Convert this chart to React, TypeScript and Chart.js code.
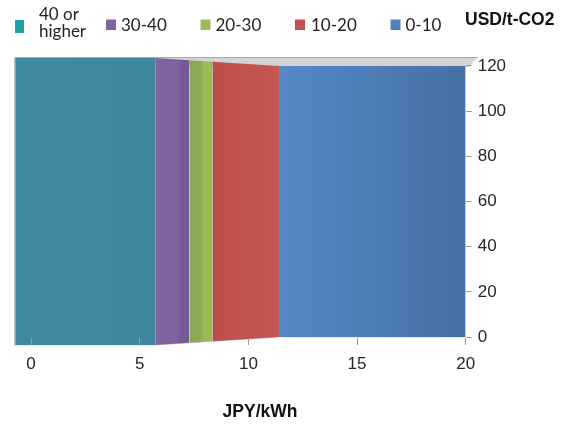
import React, { useEffect, useRef } from 'react';
import { Chart, registerables } from 'chart.js';

Chart.register(...registerables);

// Cost bands (USD/t-CO2) laid out along the JPY/kWh axis
const bandLabels = ['40 or higher', '30-40', '20-30', '10-20', '0-10'];
const legendLines = [['40 or', 'higher'], ['30-40'], ['20-30'], ['10-20'], ['0-10']];
const bandFrom = [-0.74, 5.71, 7.29, 8.34, 11.41];
const bandTo = [5.71, 7.29, 8.34, 11.41, 20];
const bandValue = [120, 120, 120, 120, 120];
const xTickValues = [0, 5, 10, 15, 20];
const yTickValues = [0, 20, 40, 60, 80, 100, 120];

const X_MIN = -0.74;
const X_MAX = 20;
const Y_BASE = 0;
const Y_TOP = 120;
// the axis leaves a little room above and below so the nearer bands can stand taller
const Y_AXIS_MIN = -3.54;
const Y_AXIS_MAX = 123.54;

// shading of each band from its left edge to its right edge
const bandStops: [number, string][][] = [
  [[0, '#408A9F'], [1, '#3F899E']],
  [[0, '#8064A2'], [0.68, '#7E62A0'], [0.72, '#775A96'], [1, '#755893']],
  [[0, '#8AA753'], [0.52, '#8DAB55'], [0.58, '#99BA58'], [1, '#9BBB59']],
  [[0, '#BB4D4A'], [0.18, '#BD4F4C'], [0.22, '#C2514E'], [0.8, '#C45450'], [1, '#C65955']],
  [[0, '#5588C6'], [0.35, '#5081BD'], [0.7, '#4A77AF'], [1, '#4571A6']],
];
const legendColors = ['#22A1A4', '#8064A2', '#9BBB59', '#C0504D', '#4F81BD'];

const DEPTH = 1.059;

function depthScale(chart: any, px: number) {
  const x = chart.scales.x;
  const p1 = x.getPixelForValue(bandTo[0]);
  const p2 = x.getPixelForValue(bandFrom[bandFrom.length - 1]);
  const t = Math.min(1, Math.max(0, (px - p1) / (p2 - p1)));
  return DEPTH - (DEPTH - 1) * t;
}

function frontFace(chart: any) {
  const y = chart.scales.y;
  const top = y.getPixelForValue(Y_TOP);
  const bottom = y.getPixelForValue(Y_BASE);
  return { top, bottom, c: (top + bottom) / 2 };
}

// perspective: the nearer (left) bands stand a little taller than the far ones
const depthPlugin = {
  id: 'depth',
  afterDatasetsUpdate(chart: any) {
    if (!chart.chartArea) return;
    const { c } = frontFace(chart);
    chart.data.datasets.forEach((_: any, i: number) => {
      const meta = chart.getDatasetMeta(i);
      meta.data.forEach((pt: any) => {
        const s = depthScale(chart, pt.x);
        pt.y = c + (pt.y - c) * s;
      });
    });
  },
  beforeDraw(chart: any) {
    const area = chart.chartArea;
    if (!area) return;
    const ctx = chart.ctx;
    const f = frontFace(chart);
    const topY = f.c - (f.c - f.top) * DEPTH - 0.5;
    ctx.save();
    ctx.fillStyle = '#D4D4D4';
    ctx.beginPath();
    ctx.moveTo(area.left, topY);
    ctx.lineTo(area.right + 12, topY);
    ctx.lineTo(area.right + 3, f.top + 1);
    ctx.lineTo(area.left, f.top + 1);
    ctx.closePath();
    ctx.fill();
    ctx.strokeStyle = '#A8A8A8';
    ctx.lineWidth = 1.2;
    ctx.beginPath();
    ctx.moveTo(area.left, topY);
    ctx.lineTo(area.right + 12, topY);
    ctx.stroke();
    ctx.restore();
  },
  afterDatasetsDraw(chart: any) {
    const area = chart.chartArea;
    const ctx = chart.ctx;
    const f = frontFace(chart);
    ctx.save();
    ctx.strokeStyle = '#A9A9A9';
    ctx.lineWidth = 1.5;
    ctx.beginPath();
    ctx.moveTo(area.left, f.c - (f.c - f.top) * DEPTH - 0.5);
    ctx.lineTo(area.left, f.c + (f.bottom - f.c) * DEPTH + 0.5);
    ctx.stroke();
    ctx.restore();
  },
};

// legend across the top and the two unit labels
const labelPlugin = {
  id: 'labels',
  afterDraw(chart: any) {
    const ctx = chart.ctx;
    ctx.save();
    const sq = [
      { x: 15, y: 20, w: 9, h: 13 },
      { x: 106, y: 19.5, w: 10, h: 10.5 },
      { x: 200.5, y: 19.5, w: 10, h: 10.5 },
      { x: 295, y: 19.5, w: 10, h: 10.5 },
      { x: 390.5, y: 19.5, w: 10, h: 10.5 },
    ];
    const textX = [39, 121, 215.5, 311, 405.5];
    ctx.font = '17px Lato';
    ctx.textBaseline = 'alphabetic';
    ctx.textAlign = 'left';
    bandLabels.forEach((_, i) => {
      ctx.fillStyle = legendColors[i];
      ctx.fillRect(sq[i].x, sq[i].y, sq[i].w, sq[i].h);
      ctx.fillStyle = '#222222';
      const lines = legendLines[i];
      if (lines.length === 1) {
        ctx.fillText(lines[0], textX[i], 30.5);
      } else {
        ctx.fillText(lines[0], textX[i], 20);
        ctx.fillText(lines[1], textX[i], 36.5);
      }
    });
    ctx.font = 'bold 17.5px "Liberation Sans", Arial, sans-serif';
    ctx.fillStyle = '#111111';
    ctx.fillText('USD/t-CO2', 465, 25);
    ctx.textAlign = 'center';
    ctx.fillText('JPY/kWh', 260, 416.5);
    ctx.restore();
  },
};

export default function App() {
  const canvasRef = useRef<HTMLCanvasElement | null>(null);

  useEffect(() => {
    document.body.style.margin = '0';
    const canvas = canvasRef.current;
    if (!canvas) return;

    const datasets: any[] = [];
    bandLabels.forEach((label, i) => {
      datasets.push({
        label,
        data: [
          { x: bandFrom[i], y: bandValue[i] },
          { x: bandTo[i], y: bandValue[i] },
        ],
        borderWidth: 0,
        pointRadius: 0,
        clip: false,
        fill: '+1',
        backgroundColor: (ctx: any) => {
          const chart = ctx.chart;
          if (!chart.chartArea) return bandStops[i][0][1];
          const xs = chart.scales.x;
          const g = chart.ctx.createLinearGradient(
            xs.getPixelForValue(bandFrom[i]), 0,
            xs.getPixelForValue(bandTo[i]), 0
          );
          bandStops[i].forEach(([o, col]) => g.addColorStop(o, col));
          return g;
        },
      });
      datasets.push({
        label: label + ' base',
        data: [
          { x: bandFrom[i], y: Y_BASE },
          { x: bandTo[i], y: Y_BASE },
        ],
        borderWidth: 1,
        borderColor: 'rgba(196,200,206,0.9)',
        pointRadius: 0,
        clip: false,
        fill: false,
      });
    });

    const tickFont = { family: '"Liberation Sans", Arial, sans-serif', size: 17 };

    const chart = new Chart(canvas, {
      type: 'line',
      data: { datasets },
      options: {
        responsive: false,
        animation: false,
        events: [],
        layout: { padding: { left: 15, top: 58, right: 0, bottom: 0 } },
        plugins: {
          legend: { display: false },
          tooltip: { enabled: false },
        },
        elements: { line: { tension: 0 } },
        scales: {
          x: {
            type: 'linear',
            min: X_MIN,
            max: X_MAX,
            afterBuildTicks: (s: any) => {
              s.ticks = xTickValues.map((v) => ({ value: v }));
            },
            afterFit: (s: any) => {
              s.height = 80;
            },
            border: { display: false },
            grid: { drawOnChartArea: false, drawTicks: true, tickLength: -7, color: '#9A9A9A', z: 1 },
            ticks: { font: tickFont, color: '#262626', padding: 16, maxRotation: 0 },
          },
          y: {
            type: 'linear',
            position: 'right',
            min: Y_AXIS_MIN,
            max: Y_AXIS_MAX,
            afterBuildTicks: (s: any) => {
              s.ticks = yTickValues.map((v) => ({ value: v }));
            },
            afterFit: (s: any) => {
              s.width = 104.3;
            },
            border: { display: false },
            grid: { drawOnChartArea: false, drawTicks: true, tickLength: 6, color: '#9A9A9A', z: 1 },
            ticks: { font: tickFont, color: '#262626', padding: 6 },
          },
        },
      },
      plugins: [depthPlugin, labelPlugin],
    });

    return () => chart.destroy();
  }, []);

  return (
    <div style={{ width: 570, height: 425, position: 'relative', background: '#ffffff' }}>
      <canvas ref={canvasRef} width={570} height={425} style={{ display: 'block' }} />
    </div>
  );
}
